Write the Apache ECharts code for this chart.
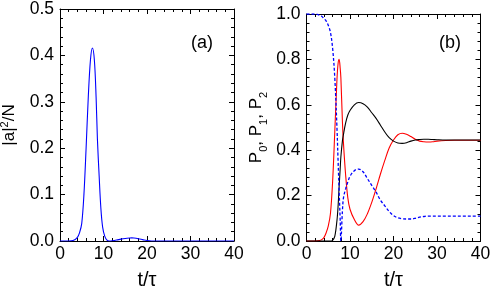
<!DOCTYPE html>
<html>
<head>
<meta charset="utf-8">
<script src="https://cdn.jsdelivr.net/npm/echarts@6/dist/echarts.min.js"></script>
<style>
html,body{margin:0;padding:0;background:#fff;}
#c{width:491px;height:298px;}
</style>
</head>
<body>
<div id="c"></div>
<script>
// Panel (a): |a|^2/N vs t/tau
var tA = [0, 2, 3, 4, 4.5, 5, 5.5, 6, 6.5, 7, 7.45, 7.9, 8.3, 8.6, 9, 9.4, 9.8, 10.3, 10.8, 11.3, 12, 13, 14, 15, 16, 16.5, 17, 18, 19, 20, 21, 25, 30, 35, 40];
var aVals = [0, 0, 0.001, 0.008, 0.018, 0.038, 0.1, 0.2, 0.31, 0.39, 0.416, 0.39, 0.31, 0.22, 0.14, 0.07, 0.03, 0.01, 0.002, 0, 0.0005, 0.002, 0.004, 0.0055, 0.0065, 0.0068, 0.0065, 0.005, 0.003, 0.001, 0, 0, 0, 0, 0];

// Panel (b): P0 (blue dashed), P1 (red), P2 (black)
var tB = [0, 1, 2, 3, 3.5, 4, 4.5, 5, 5.5, 6, 6.5, 7, 7.25, 7.5, 7.75, 7.9, 8.25, 8.5, 9, 9.5, 10, 11, 12, 13, 14, 15, 16, 17, 18, 19, 20, 21, 22, 23, 24, 25, 26, 27, 28, 29, 30, 32, 34, 36, 38, 40];
var p0 = [1, 1, 1, 0.995, 0.99, 0.98, 0.97, 0.95, 0.92, 0.85, 0.72, 0.5, 0.36, 0.22, 0.09, 0, 0.13, 0.19, 0.23, 0.26, 0.285, 0.31, 0.317, 0.305, 0.275, 0.245, 0.215, 0.18, 0.155, 0.13, 0.112, 0.102, 0.098, 0.097, 0.097, 0.1, 0.105, 0.108, 0.11, 0.11, 0.11, 0.11, 0.11, 0.11, 0.11, 0.11];
var p1 = [0, 0, 0, 0.002, 0.006, 0.015, 0.035, 0.065, 0.12, 0.26, 0.48, 0.71, 0.78, 0.8, 0.76, 0.72, 0.53, 0.43, 0.29, 0.19, 0.14, 0.095, 0.07, 0.085, 0.12, 0.17, 0.23, 0.295, 0.355, 0.41, 0.445, 0.468, 0.475, 0.47, 0.46, 0.448, 0.44, 0.437, 0.436, 0.437, 0.44, 0.443, 0.444, 0.444, 0.444, 0.444];
var p2 = [0, 0, 0, 0, 0, 0, 0, 0, 0, 0.003, 0.02, 0.09, 0.15, 0.24, 0.32, 0.37, 0.44, 0.47, 0.52, 0.555, 0.575, 0.6, 0.61, 0.605, 0.59, 0.565, 0.54, 0.51, 0.48, 0.455, 0.44, 0.432, 0.43, 0.433, 0.44, 0.445, 0.447, 0.448, 0.448, 0.447, 0.446, 0.445, 0.445, 0.445, 0.445, 0.445];

var xTicks = {min: 0, max: 40, interval: 10};
var yTicksA = {min: 0, max: 0.5, interval: 0.1};
var yTicksB = {min: 0, max: 1, interval: 0.2};

function pairs(xs, ys) { return xs.map(function (x, i) { return [x, ys[i]]; }); }

var FONT = 'Liberation Sans, Arial, sans-serif';
var lineAx = {lineStyle: {color: '#000', width: 1}};
var tickAx = {show: true, inside: true, length: 5, lineStyle: {color: '#000', width: 1}};
var minorAx = {show: true, splitNumber: 5, length: 3, lineStyle: {color: '#000', width: 1}};
var lblStyle = {color: '#000', fontSize: 17.5, fontFamily: FONT};

function xAx(grid, bottom) {
  return {
    type: 'value', gridIndex: grid, min: xTicks.min, max: xTicks.max, interval: xTicks.interval,
    position: bottom ? 'bottom' : 'top',
    axisLine: Object.assign({onZero: false}, lineAx), axisTick: tickAx, minorTick: minorAx,
    splitLine: {show: false},
    axisLabel: bottom ? Object.assign({margin: 4}, lblStyle) : {show: false},
    name: bottom ? 't/τ' : '', nameLocation: 'middle', nameGap: 29,
    nameTextStyle: {color: '#000', fontSize: 20, fontFamily: FONT}
  };
}
function yAx(grid, left, t, name, rich, gap) {
  return {
    type: 'value', gridIndex: grid, min: t.min, max: t.max, interval: t.interval,
    position: left ? 'left' : 'right',
    axisLine: Object.assign({onZero: false}, lineAx), axisTick: tickAx, minorTick: minorAx,
    splitLine: {show: false},
    axisLabel: left ? Object.assign({margin: 6, formatter: function (v) { return v.toFixed(1); }}, lblStyle) : {show: false},
    name: left ? name : '', nameLocation: 'middle', nameGap: gap || 44, nameRotate: 90,
    nameTextStyle: {color: '#000', fontSize: 17, fontFamily: FONT, lineHeight: 20, rich: rich}
  };
}

var chart = echarts.init(document.getElementById('c'), null, {renderer: 'canvas'});
chart.setOption({
  animation: false,
  backgroundColor: '#fff',
  grid: [
    {left: 60, top: 9, right: 257, bottom: 57, containLabel: false, outerBoundsMode: 'none'},
    {left: 306.5, top: 14, right: 10.5, bottom: 57, containLabel: false, outerBoundsMode: 'none'}
  ],
  xAxis: [xAx(0, true), xAx(0, false), xAx(1, true), xAx(1, false)],
  yAxis: [
    yAx(0, true, yTicksA, '|a|{sup|2}/N', {sup: {fontSize: 11, verticalAlign: 'top', lineHeight: 20, fontFamily: FONT, color: '#000'}}, 41),
    yAx(0, false, yTicksA, ''),
    yAx(1, true, yTicksB, 'P{sub|0}, P{sub|1}, P{sub|2}', {sub: {fontSize: 11, verticalAlign: 'bottom', lineHeight: 26, fontFamily: FONT, color: '#000'}}, 37),
    yAx(1, false, yTicksB, '')
  ],
  graphic: [
    {type: 'text', left: 191, top: 34, style: {text: '(a)', fontSize: 18, fontFamily: FONT, fill: '#000'}},
    {type: 'text', left: 439, top: 34, style: {text: '(b)', fontSize: 18, fontFamily: FONT, fill: '#000'}}
  ],
  series: [
    {type: 'line', xAxisIndex: 0, yAxisIndex: 0, data: pairs(tA, aVals), showSymbol: false, smooth: 0.35,
      lineStyle: {color: '#0000ff', width: 1.1}},
    {type: 'line', xAxisIndex: 2, yAxisIndex: 2, data: pairs(tB, p1), showSymbol: false, smooth: 0.35,
      lineStyle: {color: '#ff0000', width: 1.1}},
    {type: 'line', xAxisIndex: 2, yAxisIndex: 2, data: pairs(tB, p2), showSymbol: false, smooth: 0.35,
      lineStyle: {color: '#000000', width: 1.1}},
    {type: 'line', xAxisIndex: 2, yAxisIndex: 2, data: pairs(tB, p0), showSymbol: false, smooth: 0.35,
      lineStyle: {color: '#0000ff', width: 1.3, type: [3, 2]}}
  ]
});
</script>
</body>
</html>
